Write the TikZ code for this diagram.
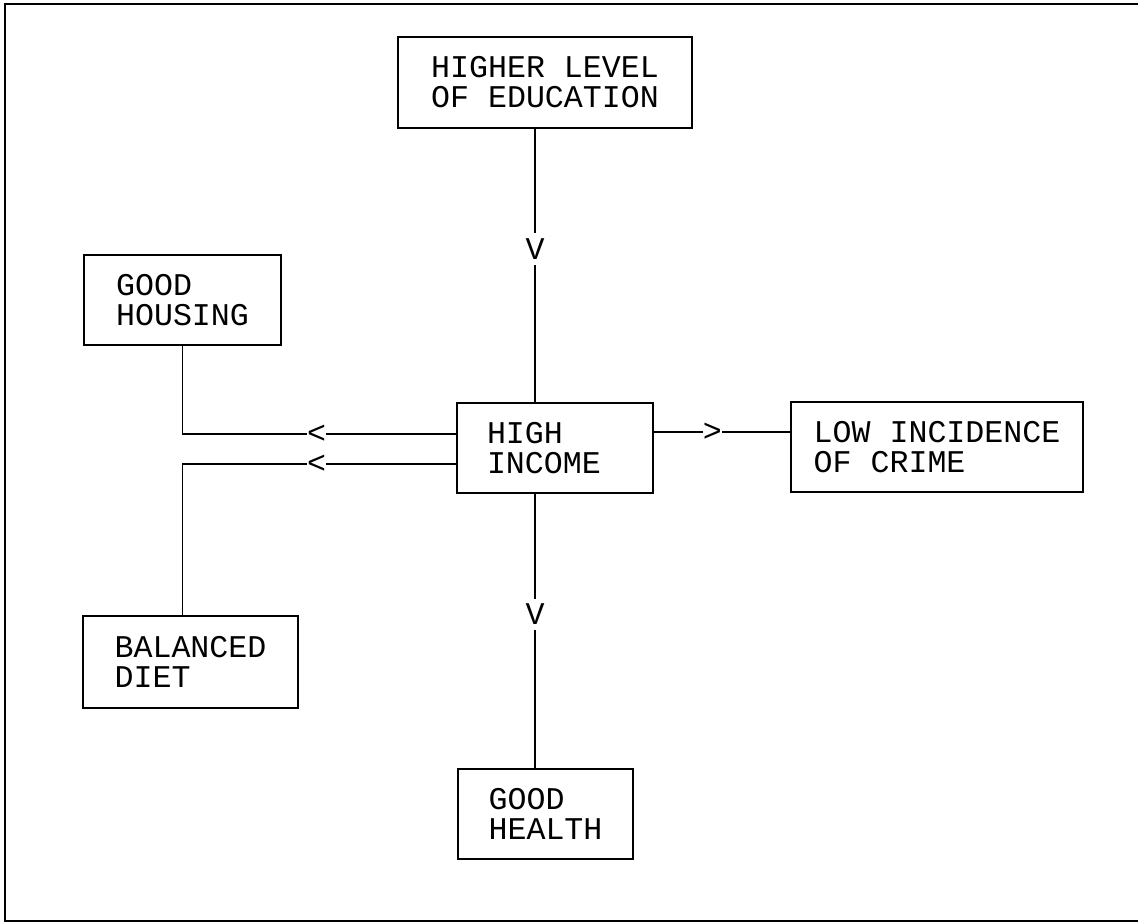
\documentclass[tikz,border=0pt]{standalone}
\usepackage{fontspec}
\setmonofont{Liberation Mono}
\usetikzlibrary{calc}

\begin{document}
\begin{tikzpicture}[x=0.02cm, y=-0.02cm,
  box/.style={draw, line width=0.9pt, align=left, inner sep=0pt,
              font=\ttfamily\fontsize{18}{17}\selectfont},
  link/.style={line width=0.9pt},
  glyph/.style={fill=white, inner xsep=0pt, inner ysep=3pt,
                font=\ttfamily\fontsize{18}{17}\selectfont},
]
\useasboundingbox (0,0) rectangle (1138,922);
\draw[line width=0.9pt] (1140,4) -- (5,4) -- (5,921) -- (1140,921);

\node[box, minimum width=5.88cm, minimum height=1.82cm] (edu) at (545,82.5) {HIGHER LEVEL\\OF EDUCATION};
\node[box, minimum width=3.94cm, minimum height=1.80cm] (hou) at (182.5,300) {GOOD\\HOUSING};
\node[box, text width=2.72cm, inner xsep=0.6cm, minimum height=1.80cm] (inc) at (555,448) {HIGH\\INCOME};
\node[box, minimum width=5.84cm, minimum height=1.80cm] (cri) at (937,447) {LOW INCIDENCE\\OF CRIME};
\node[box, minimum width=4.30cm, minimum height=1.84cm] (diet) at (190.5,662) {BALANCED\\DIET};
\node[box, minimum width=3.50cm, minimum height=1.80cm] (hea) at (545.5,814) {GOOD\\HEALTH};

% where the connectors run
\coordinate (vx) at (535,0);
\coordinate (lx) at (182.5,0);
\coordinate (hy) at (0,434);
\coordinate (dy) at (0,464);
\coordinate (ry) at (0,432);

\draw[link] (edu.south -| vx) -- node[glyph, pos=0.44] {V} (inc.north -| vx);
\draw[link] (inc.south -| vx) -- node[glyph, pos=0.44] {V} (hea.north -| vx);
\draw[link] (inc.east |- ry) -- node[glyph, pos=0.43] {>} (cri.west |- ry);
\draw[link] (inc.west |- hy) -- node[glyph, pos=0.51] {<} (lx |- hy) -- (hou.south -| lx);
\draw[link] (inc.west |- dy) -- node[glyph, pos=0.51] {<} (lx |- dy) -- (diet.north -| lx);
\end{tikzpicture}
\end{document}
